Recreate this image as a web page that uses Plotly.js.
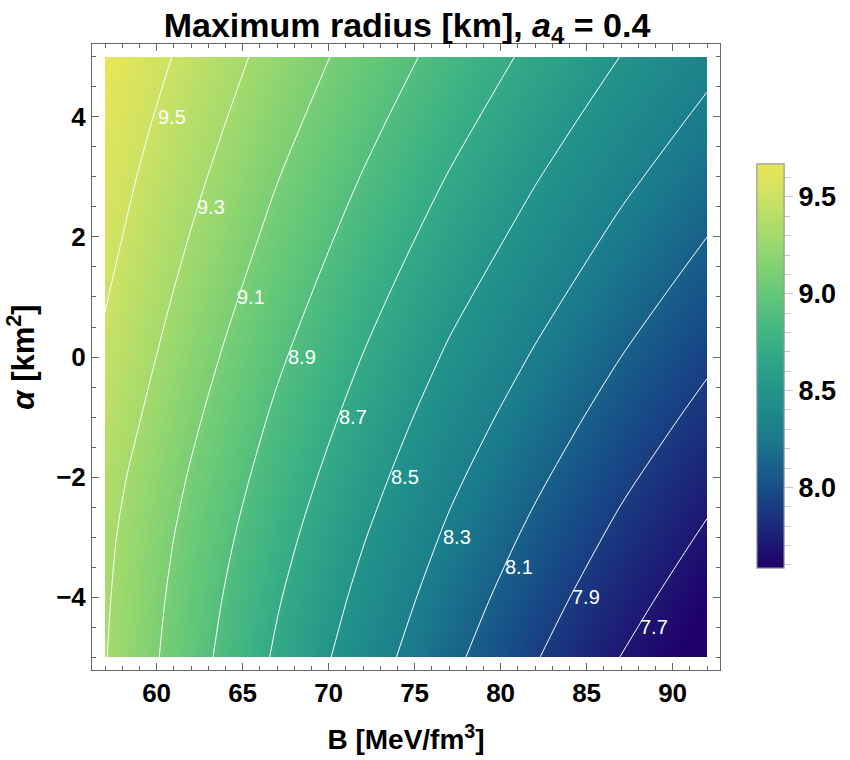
<!DOCTYPE html>
<html>
<head>
<meta charset="utf-8">
<script src="https://cdn.plot.ly/plotly-3.0.1.min.js"></script>
<style>html, body { margin: 0; padding: 0; background: #fff; }</style>
</head>
<body>
<div id="chart" style="width:850px;height:760px"></div>
<script>
var bValues = [57, 62, 67, 72, 77, 82, 87, 92];
var alphaValues = [-5, -4, -3, -2, -1, 0, 1, 2, 3, 4, 5];
var radius = [
    [9.308, 8.978, 8.674, 8.398, 8.146, 7.913, 7.697, 7.525],
    [9.322, 9.006, 8.716, 8.453, 8.208, 7.985, 7.777, 7.589],
    [9.340, 9.041, 8.763, 8.510, 8.272, 8.058, 7.857, 7.674],
    [9.372, 9.085, 8.815, 8.570, 8.338, 8.133, 7.937, 7.759],
    [9.420, 9.134, 8.870, 8.632, 8.406, 8.208, 8.018, 7.845],
    [9.468, 9.185, 8.928, 8.696, 8.477, 8.284, 8.100, 7.931],
    [9.511, 9.239, 8.988, 8.761, 8.549, 8.361, 8.181, 8.016],
    [9.552, 9.293, 9.048, 8.826, 8.621, 8.437, 8.261, 8.100],
    [9.590, 9.345, 9.107, 8.892, 8.692, 8.511, 8.341, 8.183],
    [9.630, 9.398, 9.167, 8.957, 8.763, 8.585, 8.420, 8.266],
    [9.670, 9.451, 9.226, 9.021, 8.833, 8.658, 8.497, 8.348]
];

// contour labels
var labelText = ['9.5', '9.3', '9.1', '8.9', '8.7', '8.5', '8.3', '8.1', '7.9', '7.7'];
var labelB = [60.9, 63.16, 65.5, 68.45, 71.4, 74.44, 77.46, 81.07, 84.97, 88.9];
var labelAlpha = [4, 2.5, 1, 0, -1, -2, -3, -3.5, -4, -4.5];

// colour bar ticks
var barMajor = [8, 8.5, 9, 9.5];
var barMinor = [7.6, 7.7, 7.8, 7.9, 8.1, 8.2, 8.3, 8.4, 8.6, 8.7, 8.8, 8.9, 9.1, 9.2, 9.3, 9.4, 9.6];

var zMin = 7.584, zMax = 9.67;
var W = 850, H = 760;

var colors = [
    [0, '#20006B'],
    [0.2, '#174F88'],
    [0.32, '#1A7A8C'],
    [0.44, '#23948A'],
    [0.56, '#39B085'],
    [0.68, '#64C878'],
    [0.8, '#9AD86E'],
    [0.92, '#CDE264'],
    [1, '#E9E655']
];

var boldFont = function(size) {
    return {family: '"Liberation Sans", Arial, sans-serif', size: size, color: '#000', weight: 700};
};

var frameColor = '#666666';

// two colour bars stacked on each other, plotly has no minor ticks on a colorbar
var minorBar = {
    type: 'heatmap', x: bValues, y: alphaValues, z: radius,
    zmin: zMin, zmax: zMax, colorscale: colors, zsmooth: 'best', hoverinfo: 'skip',
    colorbar: {
        x: 757 / W, xanchor: 'left', xpad: 0,
        y: 1 - 164 / H, yanchor: 'top', ypad: 0,
        thickness: 27, thicknessmode: 'pixels', len: 404, lenmode: 'pixels',
        outlinecolor: '#999999', outlinewidth: 1,
        tickmode: 'array', tickvals: barMinor, ticktext: barMinor.map(function() { return ''; }),
        ticks: 'outside', ticklen: 6, tickcolor: '#c4c4c4', tickwidth: 1
    }
};

var heat = {
    type: 'heatmap', x: bValues, y: alphaValues, z: radius,
    zmin: zMin, zmax: zMax, colorscale: colors, zsmooth: 'best', hoverinfo: 'skip',
    colorbar: {
        x: 757 / W, xanchor: 'left', xpad: 0,
        y: 1 - 164 / H, yanchor: 'top', ypad: 0,
        thickness: 27, thicknessmode: 'pixels', len: 404, lenmode: 'pixels',
        outlinecolor: '#999999', outlinewidth: 1,
        tickmode: 'array', tickvals: barMajor, tickformat: '.1f',
        ticks: 'outside', ticklen: 9, tickcolor: '#c4c4c4', tickwidth: 1,
        tickfont: boldFont(27)
    }
};

var lines = {
    type: 'contour', x: bValues, y: alphaValues, z: radius,
    autocontour: false, showscale: false, hoverinfo: 'skip',
    contours: {start: 7.7, end: 9.5, size: 0.2, coloring: 'none'},
    line: {color: '#ffffff', width: 1, smoothing: 0.8}
};

// empty trace, only there so the outer frame axes get drawn
var frame = {type: 'scatter', x: [], y: [], xaxis: 'x2', yaxis: 'y2', hoverinfo: 'skip'};

var annotations = labelText.map(function(t, i) {
    return {
        x: labelB[i], y: labelAlpha[i], xref: 'x', yref: 'y',
        text: t, showarrow: false,
        font: {family: '"Liberation Sans", Arial, sans-serif', size: 20, color: '#ffffff'}
    };
});

var layout = {
    width: W,
    height: H,
    margin: {l: 0, r: 0, t: 0, b: 0},
    paper_bgcolor: '#ffffff',
    plot_bgcolor: 'rgba(0,0,0,0)',
    showlegend: false,
    title: {
        text: 'Maximum radius [km], <i>a</i><sub>4</sub> = 0.4',
        x: 407 / W, xanchor: 'center',
        y: 1 - 25 / H, yanchor: 'middle',
        font: boldFont(34)
    },
    // inner axes hold the data, clipped to exactly the B and alpha span
    xaxis: {
        domain: [105 / W, 707 / W], range: [57, 92],
        showgrid: false, zeroline: false, ticks: '', showticklabels: false,
        showline: true, linecolor: 'rgba(255,255,255,0.5)', linewidth: 1
    },
    yaxis: {
        domain: [1 - 657 / H, 1 - 57 / H], range: [-5, 5], side: 'right',
        showgrid: false, zeroline: false, ticks: '', showticklabels: false,
        showline: true, linecolor: 'rgba(255,255,255,0.5)', linewidth: 1
    },
    // outer axes are the frame with ticks and labels
    xaxis2: {
        domain: [92 / W, 720 / W], range: [56.244, 92.756], anchor: 'y2',
        showgrid: false, zeroline: false, dtick: 5, tick0: 60,
        showline: true, mirror: 'ticks', linecolor: frameColor, linewidth: 1,
        ticks: 'inside', ticklen: 7, tickcolor: frameColor, tickwidth: 1,
        minor: {dtick: 1, ticks: 'inside', ticklen: 4, tickcolor: frameColor, tickwidth: 1, showgrid: false},
        tickfont: boldFont(26), ticklabelstandoff: 0,
        title: {text: 'B [MeV/fm<sup>3</sup>]', font: boldFont(28), standoff: 22}
    },
    yaxis2: {
        domain: [1 - 670 / H, 1 - 44 / H], range: [-5.216, 5.216], anchor: 'x2',
        showgrid: false, zeroline: false, dtick: 2, tick0: 0,
        showline: true, mirror: 'ticks', linecolor: frameColor, linewidth: 1,
        ticks: 'inside', ticklen: 7, tickcolor: frameColor, tickwidth: 1,
        minor: {dtick: 0.5, ticks: 'inside', ticklen: 4, tickcolor: frameColor, tickwidth: 1, showgrid: false},
        tickfont: boldFont(26), ticklabelstandoff: 0,
        title: {text: '<i>α</i> [km<sup>2</sup>]', font: boldFont(31), standoff: 12}
    },
    annotations: annotations
};

Plotly.newPlot('chart', [minorBar, heat, lines, frame], layout, {displayModeBar: false});
</script>
</body>
</html>
